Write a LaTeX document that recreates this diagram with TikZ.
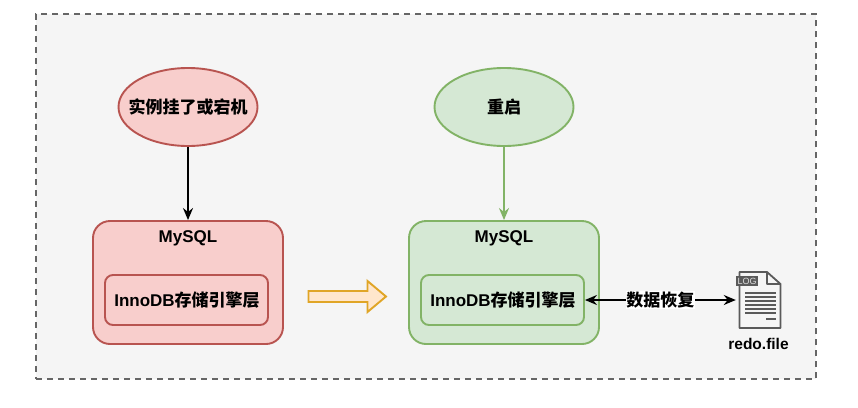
\documentclass[tikz,border=0pt]{standalone}
\usepackage{fontspec}
\setmainfont{Liberation Sans}
\newfontfamily\cjk{Noto Sans CJK SC}
\usetikzlibrary{arrows.meta,shapes.geometric}
\definecolor{redfill}{HTML}{F8CECC}
\definecolor{redline}{HTML}{B85450}
\definecolor{greenfill}{HTML}{D5E8D4}
\definecolor{greenline}{HTML}{82B366}
\definecolor{orangefill}{HTML}{FFE6CC}
\definecolor{orangeline}{HTML}{E0A526}
\definecolor{greyfill}{HTML}{F5F5F5}
\definecolor{greyline}{HTML}{666666}
\definecolor{iconline}{HTML}{5A5A5A}
\tikzset{
  txt/.style={font=\fontsize{17}{20}\selectfont\bfseries, text=black, inner sep=0pt},
  state/.style={ellipse, draw, txt, line width=1.9pt, minimum width=139pt, minimum height=78pt},
  outerbox/.style={rectangle, draw, rounded corners=17pt, line width=1.9pt, minimum width=190pt, minimum height=123pt},
  innerbox/.style={rectangle, draw, txt, rounded corners=8pt, line width=1.9pt, minimum width=163pt, minimum height=50pt},
  conn/.style={-{Stealth[length=12pt,width=10pt]}, line width=1.7pt},
}
\begin{document}
\begin{tikzpicture}[x=1pt, y=-1pt]
    \useasboundingbox (0, 0) rectangle (858, 407);
    \node[rectangle, draw=greyline, fill=greyfill, line width=1.7pt,
      dash pattern=on 6pt off 5pt, minimum width=780pt, minimum height=365pt]
      (frame) at (426, 196.5) {};

    \node[state, draw=redline, fill=redfill]
      (crash) at (188, 107) {\makebox[0pt]{\cjk 实例挂了或宕机}};
    \node[state, draw=greenline, fill=greenfill]
      (restart) at (504, 107) {\makebox[0pt]{\cjk 重启}};

    \node[outerbox, draw=redline, fill=redfill]
      (mysqlA) at (188, 282.5) {};
    \node[outerbox, draw=greenline, fill=greenfill]
      (mysqlB) at (504, 282.5) {};
    \node[txt] (titleA) at (188, 238) {MySQL};
    \node[txt] (titleB) at (504, 238) {MySQL};
    \node[innerbox, draw=redline, fill=redfill]
      (engineA) at (186.5, 300) {\hspace{1pt}InnoDB{\cjk 存储引擎层}};
    \node[innerbox, draw=greenline, fill=greenfill]
      (engineB) at (502.5, 300) {\hspace{1pt}InnoDB{\cjk 存储引擎层}};

    % hand-over arrow
    \draw[draw=orangeline, fill=orangefill, line width=1.9pt, line join=miter]
      (308.5, 291) -- (367.5, 291) -- (367.5, 281) -- (386, 296.5) -- (367.5, 312)
      -- (367.5, 302) -- (308.5, 302) -- cycle;

    % log file icon
    \node[rectangle, minimum width=48pt, minimum height=56pt, inner sep=0pt]
      (logfile) at (760, 300) {};
    \draw[iconline, line width=1.8pt, line join=round]
      (739.5, 272) -- (767, 272) -- (780.5, 284) -- (780.5, 328) -- (739.5, 328) -- cycle;
    \draw[iconline, line width=1.8pt, line join=round]
      (767, 272) -- (767, 284) -- (780.5, 284);
    \fill[iconline] (736, 276) rectangle (758, 286);
    \node[text=white!80!iconline, font=\fontsize{9}{9}\selectfont, inner sep=0pt]
      (logtag) at (747, 281) {LOG};
    \foreach \y in {293, 297, 301, 305, 309, 313}
      \draw[iconline, line width=1.7pt] (745, \y) -- (776, \y);
    \draw[iconline, line width=1.7pt] (766, 319) -- (776, 319);
    \node[txt, font=\fontsize{15.5}{18}\selectfont\bfseries]
      (filename) at (758.5, 343.5) {redo.file};

    \draw[conn] (crash) -- (mysqlA);
    \draw[conn, greenline] (restart) -- (mysqlB);
    \draw[conn, {Stealth[length=12pt,width=10pt]}-{Stealth[length=12pt,width=10pt]}]
      (engineB) -- node[txt, fill=white, inner xsep=0.5pt, inner ysep=1pt] (recover) {{\cjk 数据恢复}}
      (logfile.west |- engineB);
\end{tikzpicture}
\end{document}
